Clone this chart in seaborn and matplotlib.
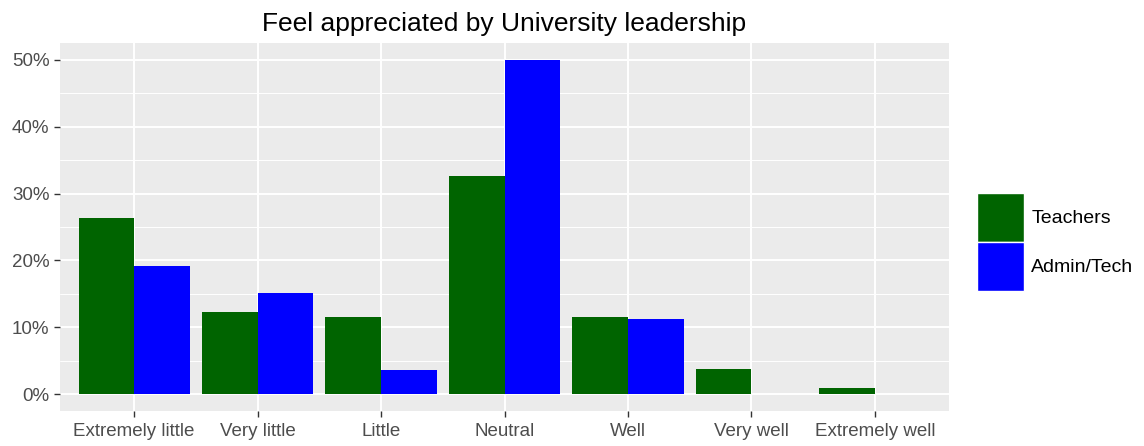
import matplotlib
matplotlib.use("Agg")
import matplotlib.pyplot as plt
import pandas as pd
import seaborn as sns
from matplotlib.patches import Patch
from matplotlib.ticker import MultipleLocator, PercentFormatter

responses = ["Extremely little", "Very little", "Little", "Neutral", "Well", "Very well", "Extremely well"]
groups = ["Teachers", "Admin/Tech"]
teachers_pct = [26.3, 12.3, 11.6, 32.6, 11.6, 3.8, 1.0]
admin_pct = [19.1, 15.2, 3.7, 50.0, 11.3, 0.0, 0.0]
colors = {"Teachers": "#006400", "Admin/Tech": "#0000FF"}

df = pd.DataFrame({
    "response": responses * 2,
    "group": ["Teachers"] * len(responses) + ["Admin/Tech"] * len(responses),
    "pct": teachers_pct + admin_pct,
})
df["response"] = pd.Categorical(df["response"], categories=responses, ordered=True)

sns.set_style("darkgrid", {"axes.facecolor": "#EBEBEB", "grid.color": "white"})
plt.rcParams["font.family"] = ["Liberation Sans", "DejaVu Sans"]

fig = plt.figure(figsize=(11.44, 4.46), dpi=100)
ax = fig.add_axes([60 / 1144, 1 - 411 / 446, (949 - 60) / 1144, (411 - 43) / 446])

sns.barplot(data=df, x="response", y="pct", hue="group", hue_order=groups,
            palette=colors, width=0.9, saturation=1, legend=False, ax=ax,
            linewidth=0, edgecolor="none", zorder=3)

ax.set_xlim(-0.6, len(responses) - 0.4)
ax.set_ylim(-2.5, 52.5)
ax.yaxis.set_major_locator(MultipleLocator(10))
ax.yaxis.set_minor_locator(MultipleLocator(5))
ax.yaxis.set_major_formatter(PercentFormatter(xmax=100, decimals=0))
ax.grid(which="major", color="white", linewidth=1.4, zorder=0)
ax.grid(which="minor", axis="y", color="white", linewidth=0.7, zorder=0)
ax.set_axisbelow(True)
for s in ax.spines.values():
    s.set_visible(False)

ax.tick_params(axis="both", which="major", length=4.5, width=1, color="#333333",
               labelsize=13.5, labelcolor="#4D4D4D", direction="out",
               bottom=True, left=True)
ax.tick_params(axis="x", pad=4.5)
ax.tick_params(axis="y", pad=3)
ax.tick_params(axis="y", which="minor", length=0, left=False)
ax.set_xlabel("")
ax.set_ylabel("")
ax.set_title("Feel appreciated by University leadership", fontsize=19, pad=9, color="black")

handles = [Patch(facecolor=colors[g], edgecolor="white", linewidth=1) for g in groups]
leg = fig.legend(handles, groups, loc="center left", bbox_to_anchor=(977 / 1144, 1 - 242 / 446),
                 frameon=False, fontsize=14, handlelength=2.4, handleheight=3.5,
                 labelspacing=0.0, handletextpad=0.4, borderaxespad=0, borderpad=0)
for t in leg.get_texts():
    t.set_color("black")

fig.savefig("out.png", dpi=100)
